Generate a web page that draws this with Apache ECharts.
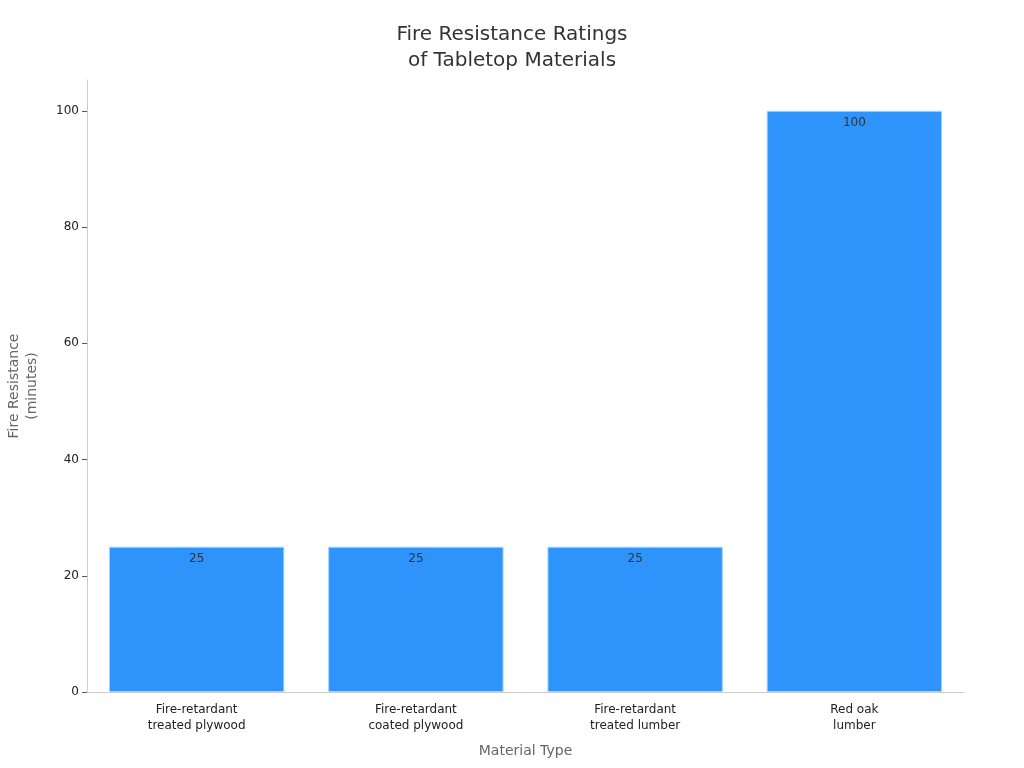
<!DOCTYPE html>
<html><head><meta charset="utf-8">
<script src="https://cdn.jsdelivr.net/npm/echarts@6/dist/echarts.min.js"></script>
<style>html,body{margin:0;padding:0;background:#fff}#c{width:1024px;height:768px}</style>
</head><body><div id="c"></div>
<script>
const categories = ["Fire-retardant\ntreated plywood", "Fire-retardant\ncoated plywood", "Fire-retardant\ntreated lumber", "Red oak\nlumber"];
const resistanceMinutes = [25, 25, 25, 100];
const yTicks = [0, 20, 40, 60, 80, 100];

const chart = echarts.init(document.getElementById('c'));
chart.setOption({
  backgroundColor: '#fff',
  textStyle: { fontFamily: 'DejaVu Sans' },
  title: {
    text: 'Fire Resistance Ratings\nof Tabletop Materials',
    left: 'center', top: 17,
    textStyle: { fontSize: 20, fontWeight: 'normal', color: '#333', lineHeight: 26, fontFamily: 'DejaVu Sans' }
  },
  grid: { left: 87, right: 60, top: 80, bottom: 76, containLabel: false, outerBoundsMode: 'none' },
  xAxis: {
    type: 'category', data: categories,
    name: 'Material Type', nameLocation: 'middle', nameGap: 52,
    nameTextStyle: { fontSize: 14, color: '#666' },
    axisLine: { lineStyle: { color: '#ccc' } },
    axisTick: { alignWithLabel: true, lineStyle: { color: '#999' }, length: 5 },
    axisLabel: { fontSize: 12, color: '#222', lineHeight: 16, margin: 10 }
  },
  yAxis: {
    type: 'value', min: 0, max: 105.3,
    name: 'Fire Resistance\n(minutes)', nameLocation: 'middle', nameGap: 46,
    nameTextStyle: { fontSize: 14, color: '#666', lineHeight: 18 },
    axisLine: { show: true, lineStyle: { color: '#ccc' } },
    axisTick: { show: true, customValues: yTicks, length: 5, lineStyle: { color: '#555' } },
    axisLabel: { customValues: yTicks, fontSize: 12, color: '#222', margin: 8 },
    splitLine: { show: false }
  },
  series: [{
    type: 'bar', data: resistanceMinutes,
    barCategoryGap: '20%',
    itemStyle: { color: '#2E93FA', borderColor: '#a6d4ff', borderWidth: 1 },
    label: { show: true, position: 'insideTop', fontSize: 12, color: '#333', distance: 6 }
  }]
});
</script></body></html>
